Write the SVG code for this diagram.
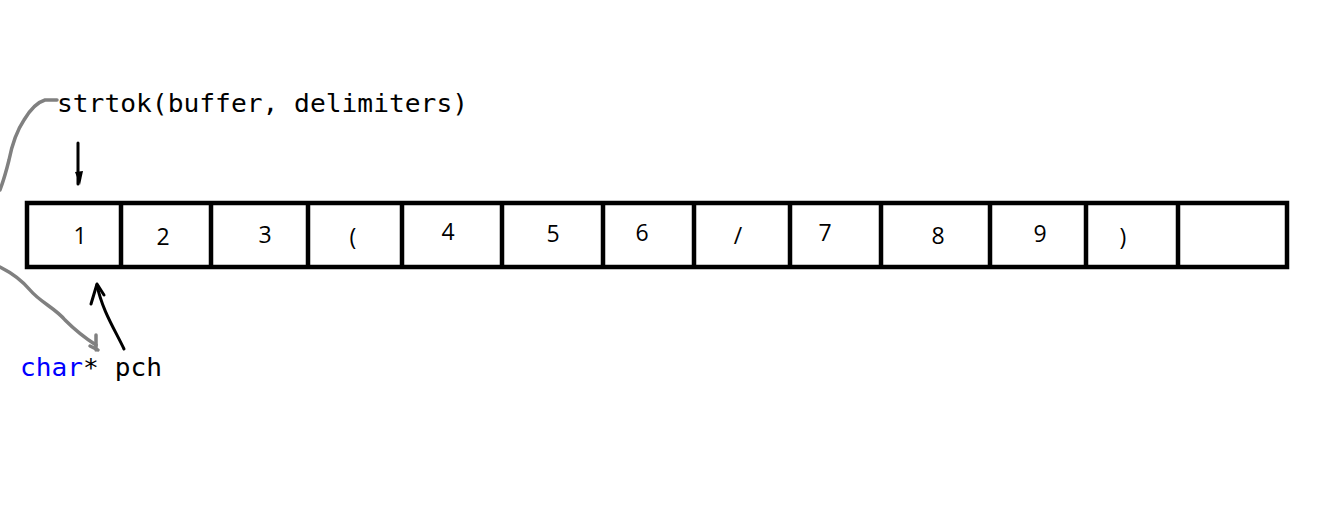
<svg xmlns="http://www.w3.org/2000/svg" width="1328" height="530" viewBox="0 0 1328 530">
<style>
.cell{font-family:"Open Sans","Liberation Sans",sans-serif;font-size:23px;fill:#000;text-anchor:middle}
.code{font-family:"DejaVu Sans Mono","Liberation Mono",monospace;font-size:24px;fill:#000}
.line{fill:none;stroke:#000;stroke-width:4.5}
.ink{fill:none;stroke:#000;stroke-width:3;stroke-linecap:round;stroke-linejoin:round}
.gray{fill:none;stroke:#808080;stroke-width:3.5;stroke-linecap:round;stroke-linejoin:round}
</style>
<rect width="1328" height="530" fill="#fff"/>
<g id="array">
<rect class="line" x="27" y="203" width="1260" height="64"/>
<path class="line" d="M121,203V267M211,203V267M308,203V267M402,203V267M502,203V267M603,203V267M694,203V267M790,203V267M881,203V267M990,203V267M1086,203V267M1178,203V267"/>
<text class="cell" x="80" y="244">1</text>
<text class="cell" x="163" y="245">2</text>
<text class="cell" x="265" y="243">3</text>
<text class="cell" x="353" y="245">(</text>
<text class="cell" x="448" y="240">4</text>
<text class="cell" x="553" y="242">5</text>
<text class="cell" x="642" y="241">6</text>
<text class="cell" x="738" y="244">/</text>
<text class="cell" x="825" y="241">7</text>
<text class="cell" x="938" y="244">8</text>
<text class="cell" x="1040" y="242">9</text>
<text class="cell" x="1123" y="245">)</text>
</g>
<g id="strtok">
<text class="code" x="57" y="112" textLength="411" lengthAdjust="spacingAndGlyphs">strtok(buffer, delimiters)</text>
</g>
<g id="pch">
<text class="code" x="20" y="376" textLength="142" lengthAdjust="spacingAndGlyphs"><tspan fill="#0000ff">char</tspan>* pch</text>
</g>
<g id="connectors">
<path class="ink" d="M78,143V184"/>
<path d="M75,172L83,171L80,185Z" fill="#000"/>
<path class="ink" d="M124,349C115,330 102,310 97,285"/>
<path class="ink" d="M91,304L97,284L104,295"/>
<path class="gray" d="M57,100H45C38,102 30,110 24,120C16,132 12,145 9,160C6,172 3,182 0,190"/>
<path class="gray" d="M0,267C10,272 20,278 30,290C40,302 55,308 65,320C75,330 85,338 96,345"/>
<path class="gray" d="M96,335V350M90,346L98,350"/>
</g>
</svg>
